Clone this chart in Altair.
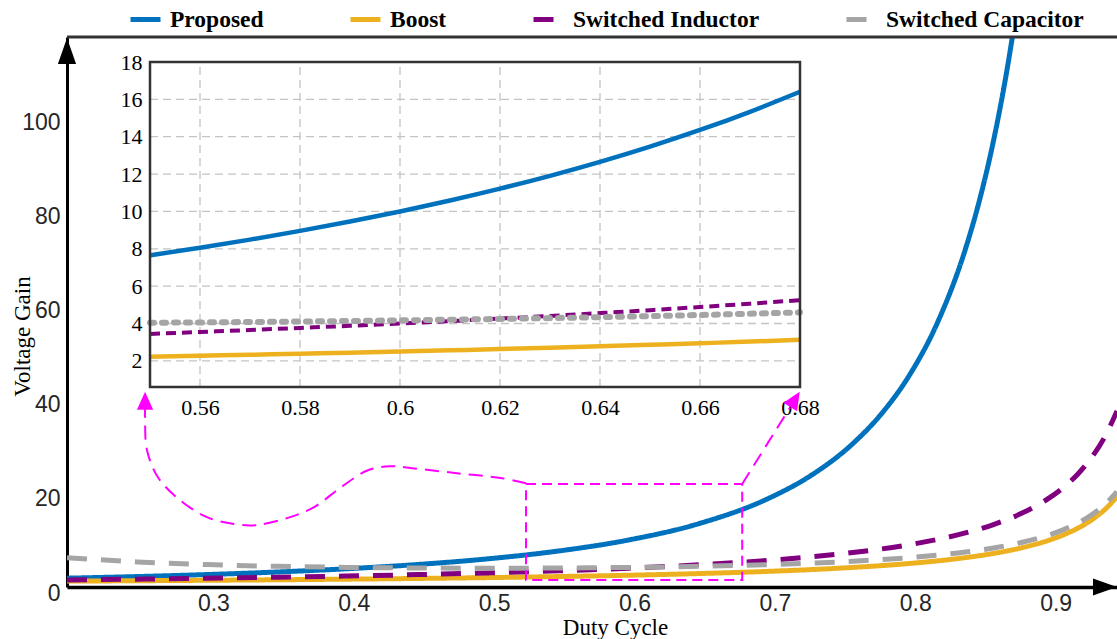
import altair as alt
import pandas as pd

SERIES = ["Proposed", "Boost", "Switched Inductor", "Switched Capacitor"]
COLORS = ["#0072BD", "#EDB120", "#800080", "#A5A5A5"]

# ---------------- main plot values ----------------
duty_proposed = [0.20, 0.25, 0.30, 0.35, 0.40, 0.45, 0.50, 0.55, 0.60, 0.65, 0.70,
                 0.73, 0.76, 0.78, 0.80, 0.82, 0.84, 0.85, 0.86, 0.87, 0.875, 0.88]
gain_proposed = [1.875, 2.222, 2.653, 3.195, 3.889, 4.793, 6.0, 7.654, 10.0, 13.469, 18.889,
                 23.73, 30.56, 36.78, 45.0, 56.17, 71.88, 82.22, 94.90, 110.65, 120.0, 130.56]

duty_main = [0.20, 0.25, 0.30, 0.35, 0.40, 0.45, 0.50, 0.55, 0.60, 0.65, 0.70, 0.75, 0.80,
             0.82, 0.84, 0.86, 0.88, 0.90, 0.91, 0.92, 0.93, 0.94, 0.948]
gain_boost = [1.25, 1.333, 1.429, 1.538, 1.667, 1.818, 2.0, 2.222, 2.5, 2.857, 3.333, 4.0, 5.0,
              5.556, 6.25, 7.143, 8.333, 10.0, 11.111, 12.5, 14.286, 16.667, 19.231]
gain_si = [1.5, 1.667, 1.857, 2.077, 2.333, 2.636, 3.0, 3.444, 4.0, 4.714, 5.667, 7.0, 9.0,
           10.111, 11.5, 13.286, 15.667, 19.0, 21.222, 24.0, 27.571, 32.333, 37.462]
gain_sc = [6.25, 5.333, 4.762, 4.396, 4.167, 4.040, 4.0, 4.040, 4.167, 4.396, 4.762, 5.333, 6.25,
           6.775, 7.440, 8.306, 9.470, 11.111, 12.210, 13.587, 15.361, 17.730, 20.286]

# ---------------- inset values ----------------
duty_inset = [0.55, 0.56, 0.57, 0.58, 0.59, 0.60, 0.61, 0.62, 0.63, 0.64, 0.65, 0.66, 0.67, 0.68]
inset_proposed = [7.654, 8.058, 8.491, 8.957, 9.459, 10.0, 10.585, 11.219, 11.907, 12.654,
                  13.469, 14.360, 15.335, 16.406]
inset_boost = [2.222, 2.273, 2.326, 2.381, 2.439, 2.5, 2.564, 2.632, 2.703, 2.778, 2.857,
               2.941, 3.030, 3.125]
inset_si = [3.444, 3.545, 3.651, 3.762, 3.878, 4.0, 4.128, 4.263, 4.405, 4.556, 4.714,
            4.882, 5.061, 5.25]
inset_sc = [4.040, 4.058, 4.080, 4.105, 4.134, 4.167, 4.203, 4.244, 4.290, 4.340, 4.396,
            4.456, 4.523, 4.596]

# ---------------- tick labels ----------------
main_x_ticks = [0.3, 0.4, 0.5, 0.6, 0.7, 0.8, 0.9]
main_y_ticks = [0, 20, 40, 60, 80, 100]
inset_x_ticks = [0.56, 0.58, 0.60, 0.62, 0.64, 0.66, 0.68]
inset_y_ticks = [2, 4, 6, 8, 10, 12, 14, 16, 18]
inset_x_grid = [0.56, 0.58, 0.60, 0.62, 0.64, 0.66]
inset_y_grid = [2, 4, 6, 8, 10, 12, 14, 16]

# ---------------- magenta call-out (main data units) ----------------
zoom_box_x = [0.527, 0.681]
zoom_box_y = [1.5, 21.9]
callout_left_x = [0.5270, 0.5099, 0.4778, 0.4458, 0.4301, 0.4144, 0.3952, 0.3760, 0.3567,
                  0.3346, 0.3190, 0.2997, 0.2805, 0.2648, 0.2570, 0.2556, 0.2556]
callout_left_y = [22.08, 23.14, 24.20, 25.27, 25.69, 24.84, 21.23, 16.99, 14.65,
                  13.16, 13.38, 14.86, 18.47, 23.35, 29.09, 35.46, 38.0]
callout_right_x = [0.6809, 0.7151]
callout_right_y = [21.87, 38.2]
head_left = [0.2556, 39.6]
head_right = [0.7186, 39.9]

X_DOM = [0.2, 0.948]
Y_DOM = [0, 117]

# ---------------- data frames ----------------
rows = []
for d, g in zip(duty_proposed, gain_proposed):
    rows.append({"D": d, "G": g, "series": "Proposed"})
for name, vals in [("Boost", gain_boost), ("Switched Inductor", gain_si),
                   ("Switched Capacitor", gain_sc)]:
    for d, g in zip(duty_main, vals):
        rows.append({"D": d, "G": g, "series": name})
df_main = pd.DataFrame(rows)

df_inset = {
    "Proposed": pd.DataFrame({"D": duty_inset, "G": inset_proposed}),
    "Boost": pd.DataFrame({"D": duty_inset, "G": inset_boost}),
    "Switched Inductor": pd.DataFrame({"D": duty_inset, "G": inset_si}),
    "Switched Capacitor": pd.DataFrame({"D": duty_inset, "G": inset_sc}),
}

# ---------------- main chart ----------------
xs = alt.Scale(domain=X_DOM, nice=False, zero=False)
ys = alt.Scale(domain=Y_DOM, nice=False, zero=False)

x_axis = alt.Axis(values=main_x_ticks, format="~g", ticks=False, grid=False,
                  labelFont="Liberation Sans", labelFontSize=23, labelColor="#262626",
                  labelOffset=6, labelPadding=5, labelFlush=False,
                  domainColor="black", domainWidth=3.5,
                  title="Duty Cycle", titleFont="Liberation Serif", titleFontSize=23,
                  titleFontWeight="normal", titleColor="black",
                  titleX=548, titleY=40, titleBaseline="middle", titleAlign="center")
y_axis = alt.Axis(values=main_y_ticks, format="d", ticks=False, grid=False,
                  labelFont="Liberation Sans", labelFontSize=23, labelColor="#262626",
                  labelOffset=6, labelPadding=7, labelFlush=False,
                  domainColor="black", domainWidth=3,
                  title="Voltage Gain", titleFont="Liberation Serif", titleFontSize=23,
                  titleFontWeight="normal", titleColor="black", titleAngle=-90,
                  titleX=-45, titleY=299, titleBaseline="middle", titleAlign="center")

legend = alt.Legend(orient="none", legendX=61, legendY=-35, direction="horizontal",
                    columns=4, title=None, symbolType="stroke", symbolSize=900,
                    symbolStrokeWidth=5, labelFont="Liberation Serif", labelFontSize=23.5,
                    labelFontWeight="bold", labelColor="black", labelLimit=400,
                    labelOffset=7, columnPadding=76, padding=0)

lines_main = alt.Chart(df_main).mark_line(clip=True, interpolate="monotone").encode(
    x=alt.X("D:Q", scale=xs, axis=x_axis),
    y=alt.Y("G:Q", scale=ys, axis=y_axis),
    color=alt.Color("series:N", scale=alt.Scale(domain=SERIES, range=COLORS), legend=legend),
    strokeDash=alt.StrokeDash("series:N",
                              scale=alt.Scale(domain=SERIES,
                                              range=[[1, 0], [1, 0], [20, 14], [20, 14]]),
                              legend=legend),
    strokeWidth=alt.StrokeWidth("series:N",
                                scale=alt.Scale(domain=SERIES, range=[5, 5, 7, 7]),
                                legend=None),
)

frame_df = pd.DataFrame({"D": [X_DOM[0]], "D2": [X_DOM[1]], "G": [Y_DOM[1]]})
top_line = alt.Chart(frame_df).mark_rule(color="#333333", strokeWidth=3).encode(
    x=alt.X("D:Q", scale=xs, axis=x_axis), x2="D2:Q",
    y=alt.Y("G:Q", scale=ys, axis=y_axis))

y_arrow = alt.Chart(pd.DataFrame({"D": [X_DOM[0]], "G": [Y_DOM[1]]})).mark_point(
    shape="M0,-1L0.7,1L-0.7,1Z", size=676, filled=True, color="black", opacity=1,
    yOffset=14).encode(x=alt.X("D:Q", scale=xs, axis=x_axis),
                        y=alt.Y("G:Q", scale=ys, axis=y_axis))
x_arrow = alt.Chart(pd.DataFrame({"D": [X_DOM[1]], "G": [Y_DOM[0]]})).mark_point(
    shape="M1,0L-1,0.7L-1,-0.7Z", size=576, filled=True, color="black", opacity=1,
    xOffset=-12).encode(x=alt.X("D:Q", scale=xs, axis=x_axis),
                         y=alt.Y("G:Q", scale=ys, axis=y_axis))

main_layer = alt.layer(lines_main, top_line, y_arrow, x_arrow)

# ---------------- inset ----------------
xi = alt.Scale(domain=[0.55, 0.68], range=[83, 733], nice=False, zero=False)
yi = alt.Scale(domain=[0.6, 18], range=[350, 25], nice=False, zero=False)

xi_axis = alt.Axis(values=inset_x_ticks, format="~g", orient="bottom", offset=-200,
                   ticks=False, domain=False, grid=False, labelFlush=False,
                   labelFont="Liberation Serif", labelFontSize=22, labelColor="black",
                   labelPadding=10, title=None)
yi_axis = alt.Axis(values=inset_y_ticks, format="d", orient="left", offset=-83,
                   ticks=False, domain=False, grid=False, labelFlush=False,
                   labelFont="Liberation Serif", labelFontSize=22, labelColor="black",
                   labelPadding=8, title=None)

box_df = pd.DataFrame({"D": [0.55], "D2": [0.68], "G": [0.6], "G2": [18]})
inset_bg = alt.Chart(box_df).mark_rect(fill="white").encode(
    x=alt.X("D:Q", scale=xi, axis=xi_axis), x2="D2:Q",
    y=alt.Y("G:Q", scale=yi, axis=yi_axis), y2="G2:Q")

gv_df = pd.DataFrame({"D": inset_x_grid, "G": [0.6] * len(inset_x_grid),
                      "G2": [18] * len(inset_x_grid)})
grid_v = alt.Chart(gv_df).mark_rule(color="#C4C4C4", strokeWidth=1.3, strokeDash=[8, 5]).encode(
    x=alt.X("D:Q", scale=xi, axis=xi_axis),
    y=alt.Y("G:Q", scale=yi, axis=yi_axis), y2="G2:Q")
gh_df = pd.DataFrame({"G": inset_y_grid, "D": [0.55] * len(inset_y_grid),
                      "D2": [0.68] * len(inset_y_grid)})
grid_h = alt.Chart(gh_df).mark_rule(color="#C4C4C4", strokeWidth=1.3, strokeDash=[8, 5]).encode(
    y=alt.Y("G:Q", scale=yi, axis=yi_axis),
    x=alt.X("D:Q", scale=xi, axis=xi_axis), x2="D2:Q")

inset_styles = {
    "Proposed": dict(color=COLORS[0], strokeWidth=4.5),
    "Boost": dict(color=COLORS[1], strokeWidth=4.5),
    "Switched Inductor": dict(color=COLORS[2], strokeWidth=4, strokeDash=[10, 6]),
    "Switched Capacitor": dict(color=COLORS[3], strokeWidth=6, strokeDash=[4, 8],
                               strokeCap="round"),
}
inset_lines = []
for name in SERIES:
    inset_lines.append(
        alt.Chart(df_inset[name]).mark_line(interpolate="monotone", **inset_styles[name]).encode(
            x=alt.X("D:Q", scale=xi, axis=xi_axis),
            y=alt.Y("G:Q", scale=yi, axis=yi_axis)))

inset_frame = alt.Chart(box_df).mark_rect(fill="transparent", stroke="#333333",
                                          strokeWidth=2.5).encode(
    x=alt.X("D:Q", scale=xi, axis=xi_axis), x2="D2:Q",
    y=alt.Y("G:Q", scale=yi, axis=yi_axis), y2="G2:Q")

inset_layer = alt.layer(inset_bg, grid_v, grid_h, *inset_lines, inset_frame)

# ---------------- magenta call-out ----------------
xa = alt.Scale(domain=X_DOM, nice=False, zero=False)
ya = alt.Scale(domain=Y_DOM, nice=False, zero=False)
MAG = "#FF00FF"

zb_df = pd.DataFrame({"D": [zoom_box_x[0]], "D2": [zoom_box_x[1]],
                      "G": [zoom_box_y[0]], "G2": [zoom_box_y[1]]})
zoom_box = alt.Chart(zb_df).mark_rect(fill="transparent", stroke=MAG, strokeWidth=2,
                                      strokeDash=[10, 6]).encode(
    x=alt.X("D:Q", scale=xa, axis=None), x2="D2:Q",
    y=alt.Y("G:Q", scale=ya, axis=None), y2="G2:Q")

cl_df = pd.DataFrame({"D": callout_left_x, "G": callout_left_y,
                      "k": list(range(len(callout_left_x)))})
callout_left = alt.Chart(cl_df).mark_line(color=MAG, strokeWidth=2, strokeDash=[14, 8],
                                          interpolate="catmull-rom").encode(
    x=alt.X("D:Q", scale=xa, axis=None), y=alt.Y("G:Q", scale=ya, axis=None),
    order="k:Q")
cr_df = pd.DataFrame({"D": callout_right_x, "G": callout_right_y})
callout_right = alt.Chart(cr_df).mark_line(color=MAG, strokeWidth=2, strokeDash=[14, 8]).encode(
    x=alt.X("D:Q", scale=xa, axis=None), y=alt.Y("G:Q", scale=ya, axis=None))

hl = alt.Chart(pd.DataFrame({"D": [head_left[0]], "G": [head_left[1]]})).mark_point(
    shape="M0,-1L0.9,1L-0.9,1Z", size=324, filled=True, color=MAG, opacity=1).encode(
    x=alt.X("D:Q", scale=xa, axis=None), y=alt.Y("G:Q", scale=ya, axis=None))
hr = alt.Chart(pd.DataFrame({"D": [head_right[0]], "G": [head_right[1]]})).mark_point(
    shape="M0,-1L0.9,1L-0.9,1Z", size=324, filled=True, color=MAG, opacity=1, angle=32).encode(
    x=alt.X("D:Q", scale=xa, axis=None), y=alt.Y("G:Q", scale=ya, axis=None))

callout_layer = alt.layer(zoom_box, callout_left, callout_right, hl, hr)

chart = alt.layer(main_layer, inset_layer, callout_layer).resolve_scale(
    x="independent", y="independent"
).properties(
    width=1050, height=550,
    padding={"left": 67, "top": 37, "right": 0, "bottom": 52},
    autosize=alt.AutoSizeParams(type="none"),
    background="white",
).configure_view(stroke=None)

chart.save("out.html", embed_options={"renderer": "svg", "actions": False})
